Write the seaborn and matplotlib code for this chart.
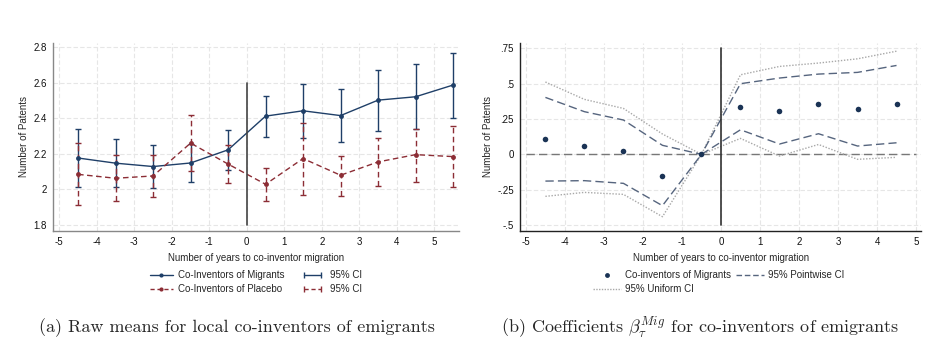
import numpy as np
import pandas as pd
import matplotlib
matplotlib.use("Agg")
import matplotlib.pyplot as plt
import seaborn as sns
from matplotlib.lines import Line2D
from matplotlib.legend_handler import HandlerLine2D

# ---------------- data ----------------
years_a = [-4.5, -3.5, -2.5, -1.5, -0.5, 0.5, 1.5, 2.5, 3.5, 4.5, 5.5]
mig_mean = [2.177, 2.148, 2.129, 2.149, 2.223, 2.413, 2.443, 2.416, 2.503, 2.522, 2.588]
mig_lo = [2.014, 2.011, 2.006, 2.043, 2.111, 2.296, 2.288, 2.266, 2.330, 2.343, 2.403]
mig_hi = [2.340, 2.283, 2.249, 2.255, 2.333, 2.525, 2.595, 2.563, 2.674, 2.704, 2.770]
plc_mean = [2.085, 2.063, 2.076, 2.261, 2.143, 2.029, 2.174, 2.080, 2.155, 2.196, 2.185]
plc_lo = [1.911, 1.936, 1.955, 2.103, 2.039, 1.935, 1.967, 1.961, 2.017, 2.044, 2.016]
plc_hi = [2.261, 2.194, 2.194, 2.418, 2.249, 2.123, 2.375, 2.191, 2.290, 2.341, 2.356]

years_b = [-4.5, -3.5, -2.5, -1.5, -0.5, 0.5, 1.5, 2.5, 3.5, 4.5]
coef = [0.106, 0.059, 0.021, -0.153, 0.0, 0.336, 0.305, 0.359, 0.319, 0.357]
pw_hi = [0.403, 0.302, 0.243, 0.064, 0.0, 0.500, 0.540, 0.568, 0.580, 0.629]
pw_lo = [-0.189, -0.186, -0.205, -0.363, 0.0, 0.174, 0.073, 0.146, 0.059, 0.082]
un_hi = [0.512, 0.389, 0.325, 0.144, 0.0, 0.563, 0.622, 0.646, 0.676, 0.730]
un_lo = [-0.297, -0.269, -0.283, -0.441, 0.0, 0.113, -0.012, 0.070, -0.035, -0.021]

xticks = [-5, -4, -3, -2, -1, 0, 1, 2, 3, 4, 5]
yticks_a = [1.8, 2.0, 2.2, 2.4, 2.6, 2.8]
yticklabels_a = ["1.8", "2", "2.2", "2.4", "2.6", "2.8"]
yticks_b = [-0.5, -0.25, 0, 0.25, 0.5, 0.75]
yticklabels_b = ["-.5", "-.25", "0", ".25", ".5", ".75"]

# ---------------- style ----------------
sns.set_theme(style="white")
plt.rcParams["font.family"] = ["Liberation Sans", "DejaVu Sans"]
plt.rcParams["mathtext.fontset"] = "cm"

BLUE = "#1f3f68"
RED = "#8c2d35"
FS = 7

fig = plt.figure(figsize=(9.49, 3.57), dpi=100)
axA = fig.add_axes([0.0562, 0.353, 0.4275, 0.5266])
axB = fig.add_axes([0.548, 0.353, 0.4226, 0.5266])


def style_axes(ax, color):
    for s in ["top", "right"]:
        ax.spines[s].set_visible(False)
    for s in ["left", "bottom"]:
        ax.spines[s].set_color(color)
        ax.spines[s].set_linewidth(1.0)
    ax.tick_params(axis="both", direction="out", length=3, width=0.8,
                   color="#555555", labelsize=FS, pad=1.5, labelcolor="#111111")
    ax.grid(True, color="#e6e6e6", linestyle=(0, (4, 2)), linewidth=0.8)
    ax.set_axisbelow(True)
    ax.set_xticks(xticks)
    ax.set_xticklabels([str(t) for t in xticks])
    ax.set_xlabel("Number of years to co-inventor migration", fontsize=FS, labelpad=4)
    ax.set_ylabel("Number of Patents", fontsize=FS, labelpad=3)


# ---------------- panel (a) ----------------
df_mig = pd.DataFrame({"year": years_a, "mean": mig_mean, "lo": mig_lo, "hi": mig_hi})
df_plc = pd.DataFrame({"year": years_a, "mean": plc_mean, "lo": plc_lo, "hi": plc_hi})

eb1 = axA.errorbar(df_mig["year"], df_mig["mean"],
                   yerr=[df_mig["mean"] - df_mig["lo"], df_mig["hi"] - df_mig["mean"]],
                   fmt="none", ecolor=BLUE, elinewidth=1.0, capsize=2, capthick=1.0, zorder=3)
eb2 = axA.errorbar(df_plc["year"], df_plc["mean"],
                   yerr=[df_plc["mean"] - df_plc["lo"], df_plc["hi"] - df_plc["mean"]],
                   fmt="none", ecolor=RED, elinewidth=1.0, capsize=2, capthick=1.0, zorder=3)
eb2[2][0].set_linestyle((0, (4, 2.5)))

sns.lineplot(data=df_mig, x="year", y="mean", ax=axA, color=BLUE, lw=1.0,
             marker="o", markersize=3.5, markeredgewidth=0, zorder=4)
sns.lineplot(data=df_plc, x="year", y="mean", ax=axA, color=RED, lw=1.0,
             linestyle=(0, (4, 2.5)), marker="o", markersize=3.5, markeredgewidth=0,
             zorder=4)
axA.plot([0, 0], [1.8, 2.6], color="#444444", lw=1.2, zorder=5)

axA.set_xlim(-5.16, 5.66)
axA.set_ylim(1.766, 2.825)
axA.set_yticks(yticks_a)
axA.set_yticklabels(yticklabels_a)
style_axes(axA, "#888888")

# ---------------- panel (b) ----------------
df_b = pd.DataFrame({"year": years_b, "coef": coef, "pw_lo": pw_lo, "pw_hi": pw_hi,
                     "un_lo": un_lo, "un_hi": un_hi})

axB.plot([-5, 5], [0, 0], color="#777777", lw=1.0, linestyle=(0, (6, 3)), zorder=2)
for col in ["un_hi", "un_lo"]:
    sns.lineplot(data=df_b, x="year", y=col, ax=axB, color="#a8a8a8", lw=1.0,
                 linestyle=(0, (1, 1.2)), zorder=3)
for col in ["pw_hi", "pw_lo"]:
    sns.lineplot(data=df_b, x="year", y=col, ax=axB, color="#56657e", lw=1.0,
                 linestyle=(0, (6, 3)), zorder=3)
sns.scatterplot(data=df_b, x="year", y="coef", ax=axB, color="#1a3355", s=16,
                linewidth=0, zorder=4)
axB.plot([0, 0], [-0.5, 0.75], color="#333333", lw=1.2, zorder=5)

axB.set_xlim(-5.15, 5.13)
axB.set_ylim(-0.542, 0.788)
axB.set_yticks(yticks_b)
axB.set_yticklabels(yticklabels_b)
style_axes(axB, "#222222")

# ---------------- legends ----------------
h_mig = Line2D([], [], color=BLUE, lw=1.0, marker="o", markersize=3, markeredgewidth=0)
h_plc = Line2D([], [], color=RED, lw=1.0, linestyle=(0, (3, 2)), marker="o",
               markersize=3, markeredgewidth=0)
h_ci1 = Line2D([], [], color=BLUE, lw=1.0, marker="|", markersize=4, markeredgewidth=1.0)
h_ci2 = Line2D([], [], color=RED, lw=1.0, linestyle=(0, (3, 2)), marker="|",
               markersize=4, markeredgewidth=1.0)
legA = fig.legend([h_mig, h_plc, h_ci1, h_ci2],
                  ["Co-Inventors of Migrants", "Co-Inventors of Placebo", "95% CI", "95% CI"],
                  ncol=2, loc="center", bbox_to_anchor=(256 / 949, 1 - 282 / 357),
                  frameon=False, fontsize=FS, handlelength=2.3, handletextpad=0.6,
                  columnspacing=1.7, labelspacing=0.4, numpoints=1,
                  handler_map={h_ci1: HandlerLine2D(numpoints=2),
                               h_ci2: HandlerLine2D(numpoints=2)})

h_pt = Line2D([], [], color="#1a3355", lw=0, marker="o", markersize=3.5, markeredgewidth=0)
h_pw = Line2D([], [], color="#56657e", lw=1.0, linestyle=(0, (4, 2)))
h_un = Line2D([], [], color="#a8a8a8", lw=1.0, linestyle=(0, (1, 1)))
legB = fig.legend([h_pt, h_un, h_pw],
                  ["Co-inventors of Migrants", "95% Uniform CI", "95% Pointwise CI"],
                  ncol=2, loc="center", bbox_to_anchor=(719 / 949, 1 - 282 / 357),
                  frameon=False, fontsize=FS, handlelength=2.8, handletextpad=0.5,
                  columnspacing=0.5, labelspacing=0.4, numpoints=1)

# ---------------- captions ----------------
fig.text(237 / 949, 1 - 328 / 357, "(a) Raw means for local co-inventors of emigrants",
         family="cmr10", fontsize=13, ha="center", va="center")
fig.text(700 / 949, 1 - 328 / 357,
         r"(b) Coefficients $\beta_{\tau}^{Mig}$ for co-inventors of emigrants",
         family="cmr10", fontsize=13, ha="center", va="center")

fig.savefig("out.png", dpi=100)
